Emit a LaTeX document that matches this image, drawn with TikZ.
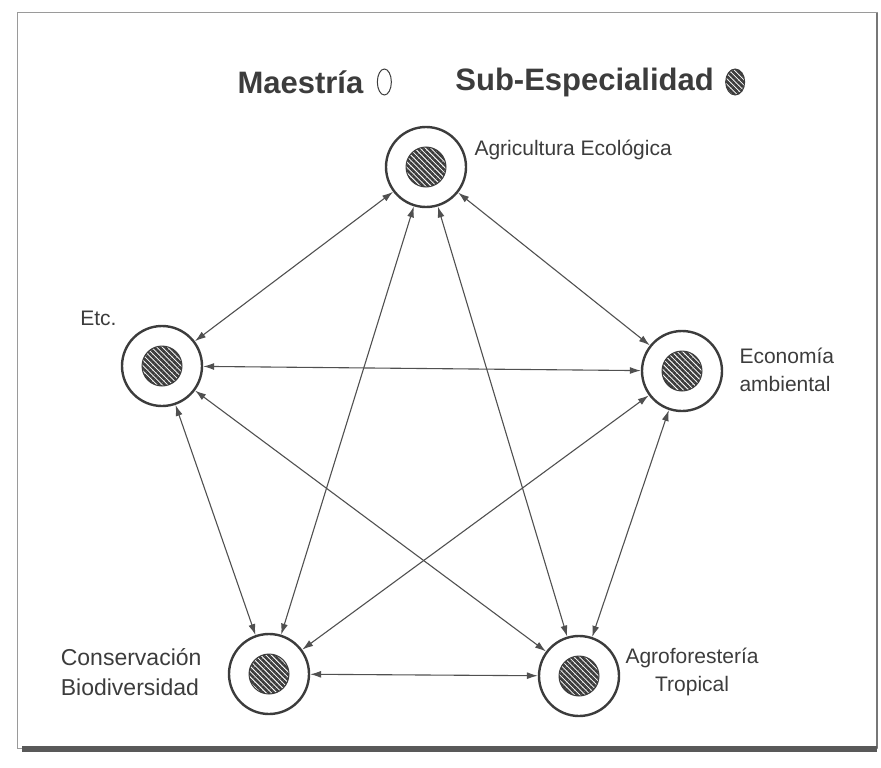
\documentclass[tikz,border=0pt]{standalone}
\usepackage{fontspec}
\setmainfont{Liberation Sans}
\usepackage{xcolor}
\usepackage{tikz}
\usetikzlibrary{
  graphs,
  positioning,
  arrows.meta,
  patterns.meta,
  shapes.geometric,
}
\definecolor{ink}{HTML}{3C3C3C}
\definecolor{rim}{HTML}{9A9A9A}
\tikzset{
  meta ring/.style={
    draw=ink,
    inner sep=0pt
  },
  outer ring/.style={
    meta ring,
    circle,
    line width=2.4pt,
    minimum size=80pt
  },
  hatched/.style={
    meta ring,
    line width=1pt,
    pattern={Lines[angle=-45,distance=3.8pt,line width=2.7pt]},
    pattern color=ink
  },
  hatch dot/.style={
    hatched,
    circle,
    minimum size=40pt
  },
  wire/.style={
    ink!90,
    line width=1.1pt
  },
  lbl/.style={
    text=ink,
    font=\fontsize{21}{28}\selectfont
  },
  legend/.style={
    text=ink,
    font=\fontsize{31}{34}\selectfont\bfseries
  }
}

\begin{document}
\begin{tikzpicture}[x=1pt, y=-1pt, >={Latex[length=11pt,width=7pt]}]
  \useasboundingbox (0,0) rectangle (881,768);
  \draw[rim, line width=1pt] (17,13) rectangle (877,748);
  \draw[ink!70, line width=1.6pt] (877,13) -- (877,748);
  \fill[ink!85] (22,746) rectangle (877,752);

  %% Legend
  \node[legend, anchor=west] (maes) at (234,82) {Maestría};
  \node[meta ring, line width=1pt, ellipse, minimum width=14pt, minimum height=26pt, right=10pt of maes] (maes-sym) {};
  \node[legend, right=60pt of maes-sym] (sub) {Sub-Especialidad};
  \node[hatched, ellipse, minimum width=19pt, minimum height=26pt, right=7pt of sub] (sub-sym) {};

  %% Nodes
  \node[outer ring] (agri) at (426,167) {};
  \node[hatch dot]  (agri-in) at (agri) {};
  \node[outer ring] (etc) at (162,366) {};
  \node[hatch dot]  (etc-in) at (etc) {};
  \node[outer ring] (eco) at (682,371) {};
  \node[hatch dot]  (eco-in) at (eco) {};
  \node[outer ring] (cons) at (269,674) {};
  \node[hatch dot]  (cons-in) at (cons) {};
  \node[outer ring] (agro) at (579,676) {};
  \node[hatch dot]  (agro-in) at (agro) {};

  %% Labels
  \node[lbl, anchor=west] (agri-lbl) at (471,150) {Agricultura Ecológica};
  \node[lbl, anchor=east] (etc-lbl) at (120,318) {Etc.};
  \node[lbl, anchor=west, align=left] (eco-lbl) at (736,370) {Economía\\ambiental};
  \node[lbl, font=\fontsize{23}{30}\selectfont, anchor=east, align=left] (cons-lbl) at (205,672) {Conservación\\Biodiversidad};
  \node[lbl, anchor=west, align=center] (agro-lbl) at (622,672) {Agroforestería\\Tropical};

  \graph[edges={wire}]{
    (agri) <-> {(etc), (eco), (cons), (agro)};
    (etc) <-> {(eco), (cons), (agro)};
    (eco) <-> {(cons), (agro)};
    (cons) <-> (agro);
  };
\end{tikzpicture}
\end{document}
